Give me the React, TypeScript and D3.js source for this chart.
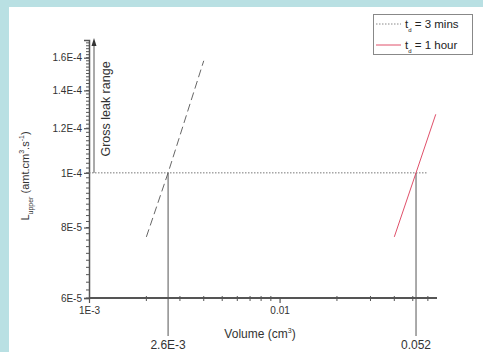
import React, { useEffect, useRef } from 'react';
import * as d3 from 'd3';

// curves: gross leak rate limit vs internal volume
const volumes3min = [2.0e-3, 2.6e-3, 4.0e-3];
const leak3min = [7.7e-5, 1.0e-4, 1.58e-4];
const volumes1h = [0.04, 0.052, 0.066];
const leak1h = [7.7e-5, 1.0e-4, 1.27e-4];

const thresholdLeak = 1e-4;
const thresholdVolumeEnd = 0.06;
const markerVolumes = [2.6e-3, 0.052];
const markerLabels = ['2.6E-3', '0.052'];

const yTicks = [6e-5, 8e-5, 1e-4, 1.2e-4, 1.4e-4, 1.6e-4];
const yTickLabels = ['6E-5', '8E-5', '1E-4', '1.2E-4', '1.4E-4', '1.6E-4'];
const xTicks = [1e-3, 1e-2];
const xTickLabels = ['1E-3', '0.01'];

const W = 483;
const H = 352;
const FONT = '"Liberation Sans", Arial, sans-serif';

export default function App() {
  const ref = useRef<SVGSVGElement>(null);

  useEffect(() => {
    const svg = d3.select(ref.current);
    svg.selectAll('*').remove();

    // light blue frame
    svg.append('rect').attr('width', W).attr('height', H).attr('fill', '#b9e0e3');
    svg.append('rect').attr('x', 9).attr('y', 7).attr('width', W - 9).attr('height', H - 7).attr('fill', '#fff');

    const x = d3.scaleLog().domain([1e-3, 0.067]).range([89, 437]);
    const y = d3.scaleLog().domain([6e-5, 1.72e-4]).range([298, 40]);

    const axisColor = '#555';

    // y minor ticks
    const minor = d3.range(6e-5, 1.71e-4, 2e-6);
    svg.append('g').selectAll('line').data(minor).enter().append('line')
      .attr('x1', x(1e-3) - 3).attr('x2', x(1e-3))
      .attr('y1', d => y(d)).attr('y2', d => y(d))
      .attr('stroke', axisColor).attr('stroke-width', 1);

    // y axis
    const yAxis = d3.axisLeft(y).tickValues(yTicks)
      .tickFormat((d, i) => yTickLabels[i]).tickSize(5).tickPadding(2);
    const gy = svg.append('g').attr('transform', `translate(${x(1e-3)},0)`).call(yAxis);
    gy.select('.domain').attr('stroke', axisColor).attr('stroke-width', 1.5);
    gy.selectAll('.tick line').attr('stroke', axisColor).attr('stroke-width', 1.2);
    gy.selectAll('.tick text').attr('font-family', FONT).attr('font-size', 10).attr('fill', '#333');

    // x minor ticks
    const xMinor: number[] = [];
    for (let k = 2; k <= 9; k++) xMinor.push(k * 1e-3);
    for (let k = 2; k <= 6; k++) xMinor.push(k * 1e-2);
    svg.append('g').selectAll('line').data(xMinor).enter().append('line')
      .attr('x1', d => x(d)).attr('x2', d => x(d))
      .attr('y1', y(6e-5) - 2).attr('y2', y(6e-5) + 3)
      .attr('stroke', axisColor).attr('stroke-width', 1);

    // x axis
    const xAxis = d3.axisBottom(x).tickValues(xTicks)
      .tickFormat((d, i) => xTickLabels[i]).tickSize(5).tickPadding(4);
    const gx = svg.append('g').attr('transform', `translate(0,${y(6e-5)})`).call(xAxis);
    gx.select('.domain').attr('stroke', axisColor).attr('stroke-width', 2).attr('d', `M${x(1e-3)},0H${x(0.067)}`);
    gx.selectAll('.tick line').attr('stroke', axisColor).attr('stroke-width', 1.2);
    gx.selectAll('.tick text').attr('font-family', FONT).attr('font-size', 10).attr('fill', '#333');

    // threshold dotted line at 1E-4
    svg.append('line')
      .attr('x1', x(1e-3)).attr('x2', x(thresholdVolumeEnd))
      .attr('y1', y(thresholdLeak)).attr('y2', y(thresholdLeak))
      .attr('stroke', '#777').attr('stroke-width', 1).attr('stroke-dasharray', '1.5,1.5');

    // vertical markers
    markerVolumes.forEach((v, i) => {
      svg.append('line')
        .attr('x1', x(v)).attr('x2', x(v))
        .attr('y1', y(thresholdLeak)).attr('y2', 336)
        .attr('stroke', '#555').attr('stroke-width', 1);
      svg.append('text')
        .attr('x', x(v)).attr('y', 349)
        .attr('text-anchor', 'middle')
        .attr('font-family', FONT).attr('font-size', 12).attr('fill', '#333')
        .text(markerLabels[i]);
    });

    const line = d3.line<[number, number]>().x(d => x(d[0])).y(d => y(d[1]));

    svg.append('path')
      .attr('d', line(volumes3min.map((v, i) => [v, leak3min[i]]) as [number, number][]))
      .attr('fill', 'none').attr('stroke', '#666').attr('stroke-width', 1)
      .attr('stroke-dasharray', '8,4');

    svg.append('path')
      .attr('d', line(volumes1h.map((v, i) => [v, leak1h[i]]) as [number, number][]))
      .attr('fill', 'none').attr('stroke', '#e0506a').attr('stroke-width', 1);

    // gross leak range arrow
    svg.append('line')
      .attr('x1', 94).attr('x2', 94)
      .attr('y1', y(thresholdLeak)).attr('y2', 44)
      .attr('stroke', '#555').attr('stroke-width', 1);
    svg.append('path').attr('d', 'M94,38 L91.5,46 L96.5,46 Z').attr('fill', '#333');

    svg.append('text')
      .attr('transform', 'translate(110,109) rotate(-90)')
      .attr('text-anchor', 'middle')
      .attr('font-family', FONT).attr('font-size', 12.5).attr('fill', '#333')
      .text('Gross leak range');

    // y axis title
    const yt = svg.append('text')
      .attr('transform', 'translate(29,176) rotate(-90)')
      .attr('text-anchor', 'middle')
      .attr('font-family', FONT).attr('font-size', 11).attr('fill', '#333');
    yt.append('tspan').text('L');
    yt.append('tspan').attr('font-size', 7).attr('dy', 4).text('upper');
    yt.append('tspan').attr('dy', -4).text(' (amt.cm');
    yt.append('tspan').attr('font-size', 7).attr('dy', -5).text('3');
    yt.append('tspan').attr('dy', 5).text('.s');
    yt.append('tspan').attr('font-size', 7).attr('dy', -5).text('-1');
    yt.append('tspan').attr('dy', 5).text(')');

    // x axis title
    const xt = svg.append('text')
      .attr('x', 260).attr('y', 338)
      .attr('text-anchor', 'middle')
      .attr('font-family', FONT).attr('font-size', 12).attr('fill', '#333');
    xt.append('tspan').text('Volume (cm');
    xt.append('tspan').attr('font-size', 7).attr('dy', -5).text('3');
    xt.append('tspan').attr('dy', 5).text(')');

    // legend
    const lg = svg.append('g');
    lg.append('rect').attr('x', 373.5).attr('y', 14.5).attr('width', 99).attr('height', 40)
      .attr('fill', '#fff').attr('stroke', '#888').attr('stroke-width', 1);
    const entries = [
      { label: '= 3 mins', color: '#888', dash: '1.5,1.5', yy: 24 },
      { label: '= 1 hour', color: '#e0506a', dash: null, yy: 45 },
    ];
    entries.forEach(e => {
      const l = lg.append('line').attr('x1', 376).attr('x2', 401)
        .attr('y1', e.yy).attr('y2', e.yy)
        .attr('stroke', e.color).attr('stroke-width', 1);
      if (e.dash) l.attr('stroke-dasharray', e.dash);
      const t = lg.append('text').attr('x', 405).attr('y', e.yy + 4)
        .attr('font-family', FONT).attr('font-size', 11.5).attr('fill', '#222');
      t.append('tspan').text('t');
      t.append('tspan').attr('font-size', 6).attr('dy', 4).text('d');
      t.append('tspan').attr('dy', -4).text(' ' + e.label);
    });
  }, []);

  return (
    <svg ref={ref} width={W} height={H}
      style={{ position: 'absolute', left: 0, top: 0, display: 'block' }} />
  );
}
